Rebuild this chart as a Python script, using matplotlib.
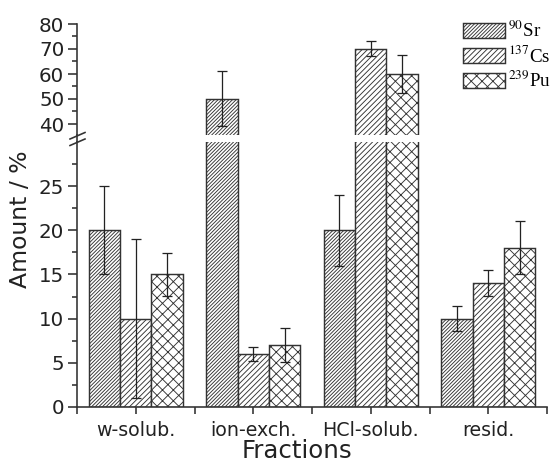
import matplotlib
matplotlib.use("Agg")
import matplotlib.pyplot as plt
import numpy as np

categories = ["w-solub.", "ion-exch.", "HCl-solub.", "resid."]
series = ["$^{90}$Sr", "$^{137}$Cs", "$^{239}$Pu"]
sr_vals = [20, 50, 20, 10]
sr_err = [5, 11, 4, 1.45]
cs_vals = [10, 6, 70, 14]
cs_err = [9, 0.75, 3, 1.45]
pu_vals = [15, 7, 60, 18]
pu_err = [2.4, 1.9, 7.7, 3.0]

values = [sr_vals, cs_vals, pu_vals]
errors = [sr_err, cs_err, pu_err]
hatches = ["/" * 12, "/" * 8, "xxxx"]

DPI = 130
W, H = 552, 463
plt.rcParams["hatch.linewidth"] = 0.5
plt.rcParams["mathtext.fontset"] = "stix"
plt.rcParams["font.family"] = ["DejaVu Sans"]

fig = plt.figure(figsize=(W / DPI, H / DPI), dpi=DPI)

def fx(px):
    return px / W

def fy(py):
    return 1 - py / H

left, right = fx(77), fx(547)
ax_top = fig.add_axes([left, fy(135), right - left, fy(24) - fy(135)])
ax_bot = fig.add_axes([left, fy(407), right - left, fy(142) - fy(407)])

edge = "#333333"
bw = 0.268
x = np.arange(len(categories)) + 0.5
for ax in (ax_top, ax_bot):
    for k in range(3):
        pos = x + (k - 1) * bw
        ax.bar(pos, values[k], bw, facecolor="white", edgecolor=edge,
               hatch=hatches[k], linewidth=0.8, label=series[k], zorder=2)
        ax.errorbar(pos, values[k], yerr=errors[k], fmt="none", ecolor="#222222",
                    elinewidth=0.7, capsize=2.6, capthick=0.7, zorder=3)
    ax.set_xlim(0, 4)
    for s in ("top", "right"):
        ax.spines[s].set_visible(False)
    ax.spines["left"].set_color(edge)
    ax.spines["left"].set_linewidth(0.9)
    ax.tick_params(axis="y", which="major", length=5, width=0.9, color=edge,
                   labelsize=11, labelcolor="#222222", pad=2)
    ax.tick_params(axis="y", which="minor", length=3, width=0.9, color=edge)

ax_top.set_ylim(35.6, 80)
ax_top.set_yticks([40, 50, 60, 70, 80])
ax_top.set_yticks([45, 55, 65, 75], minor=True)
ax_top.spines["bottom"].set_visible(False)
ax_top.set_xticks([])

ax_bot.set_ylim(0, 29.98)
ax_bot.set_yticks([0, 5, 10, 15, 20, 25])
ax_bot.set_yticks([2.5, 7.5, 12.5, 17.5, 22.5, 27.5], minor=True)
ax_bot.spines["bottom"].set_color(edge)
ax_bot.spines["bottom"].set_linewidth(0.9)
ax_bot.set_xticks(x)
ax_bot.set_xticklabels(categories)
ax_bot.set_xticks(np.arange(0, 5), minor=True)
ax_bot.tick_params(axis="x", which="both", length=4, width=0.9, color=edge,
                   labelsize=10.5, labelcolor="#222222", pad=4)

fig.text(fx(297), fy(451), "Fractions", fontsize=13.5, color="#222222",
         ha="center", va="center")
fig.text(fx(21), fy(219), "Amount / %", rotation=90, fontsize=13,
         color="#222222", ha="center", va="center")

# connect axis line across break and draw break marks
fig.add_artist(plt.Line2D([left, left], [fy(142), fy(135)], color=edge, lw=0.9,
                          transform=fig.transFigure))
for dy in (0, 6.5):
    fig.add_artist(plt.Line2D([fx(70), fx(85)], [fy(139 + dy), fy(132.5 + dy)],
                              color=edge, lw=0.9, transform=fig.transFigure))

handles, labels = ax_top.get_legend_handles_labels()
leg = fig.legend(handles[:3], labels[:3], loc="upper left",
                 bbox_to_anchor=(fx(463), fy(21)), frameon=False,
                 prop={"family": "Liberation Serif", "size": 10.5},
                 handlelength=2.2, handleheight=0.85, handletextpad=0.2,
                 labelspacing=0.22, borderpad=0, borderaxespad=0)

fig.savefig("out.png", dpi=DPI)
